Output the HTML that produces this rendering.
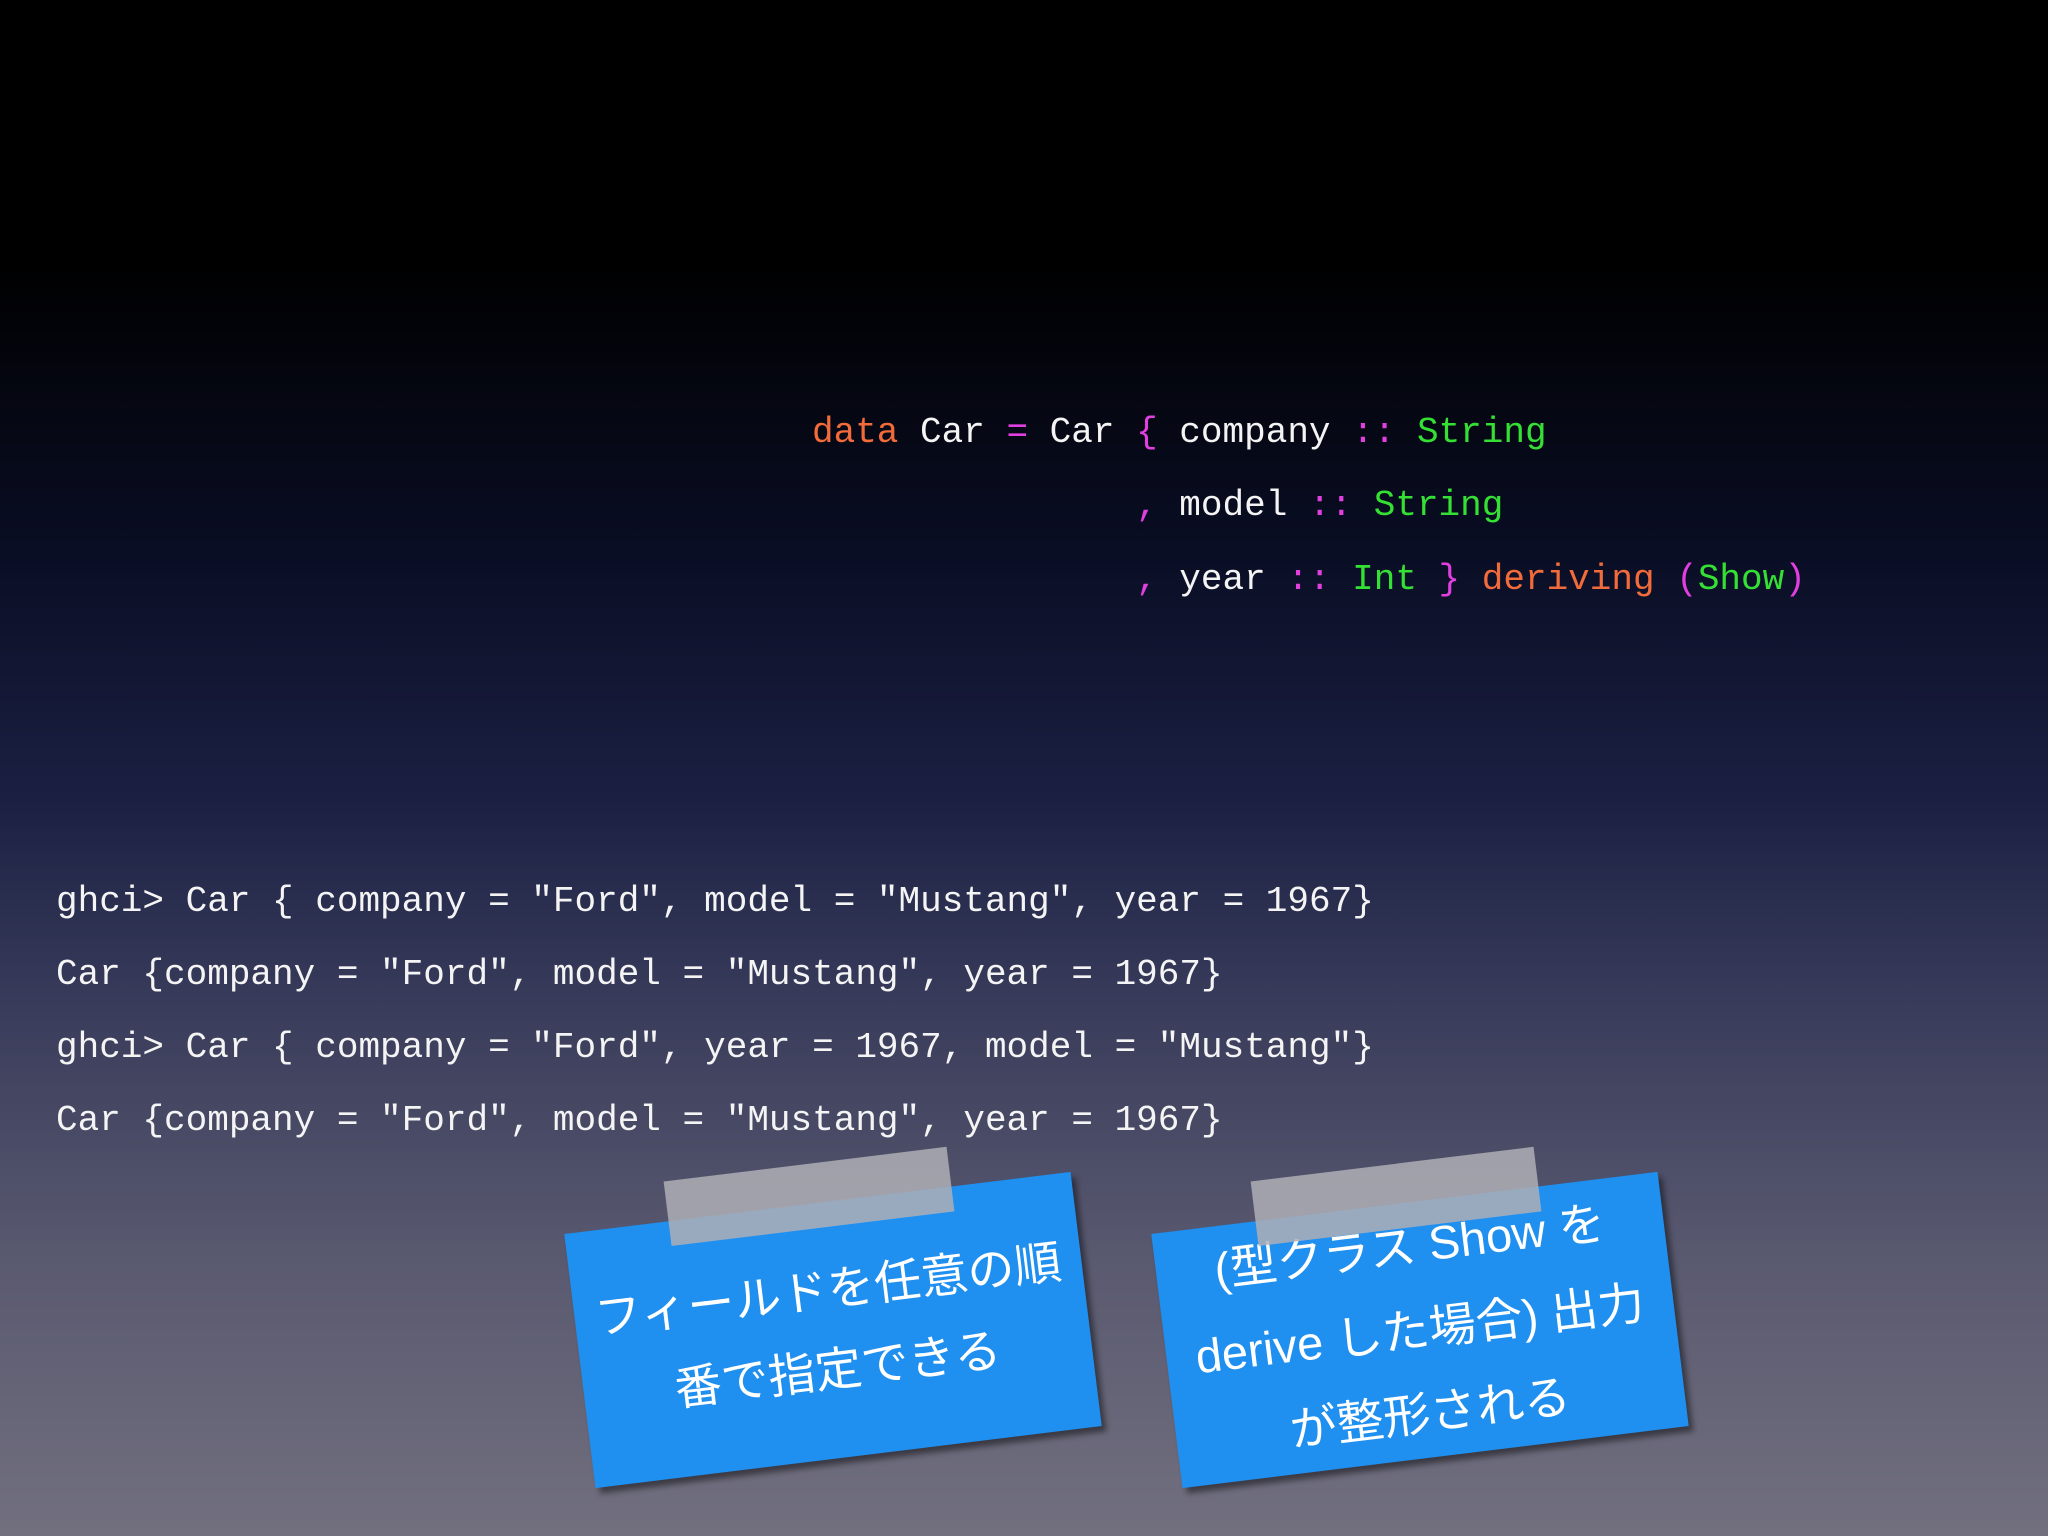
<!DOCTYPE html>
<html><head><meta charset="utf-8"><style>
html,body{margin:0;padding:0}
body{width:2048px;height:1536px;overflow:hidden;position:relative;
background:linear-gradient(180deg,#000 0px,#000 260px,#0a0e25 560px,#1b2043 800px,#383b5a 1000px,#58586f 1250px,#72707f 1536px);}
.code{position:absolute;font-family:"Liberation Mono",monospace;font-size:36px;white-space:pre;color:#f4f4f4;line-height:44px}
.o{color:#f26b3a}.m{color:#e23fe0}.g{color:#35e035}
.note{position:absolute;width:510px;height:256px;background:#1f8ff0;box-shadow:4px 6px 6px rgba(0,0,0,.45);color:#fff;
font-family:"Liberation Sans","Noto Sans CJK JP",sans-serif;font-size:47px;text-align:center;display:flex;align-items:center;justify-content:center;line-height:80px}
.tape{position:absolute;left:105px;top:-40px;width:285px;height:65px;background:rgba(175,175,182,.85)}
</style></head><body>
<div class="code" style="left:812px;top:411px"><span class="o">data</span> Car <span class="m">=</span> Car <span class="m">{</span> company <span class="m">::</span> <span class="g">String</span></div>
<div class="code" style="left:812px;top:484px">               <span class="m">,</span> model <span class="m">::</span> <span class="g">String</span></div>
<div class="code" style="left:812px;top:558px">               <span class="m">,</span> year <span class="m">::</span> <span class="g">Int</span> <span class="m">}</span> <span class="o">deriving</span> <span class="m">(</span><span class="g">Show</span><span class="m">)</span></div>
<div class="code" style="left:56px;top:880px">ghci&gt; Car { company = "Ford", model = "Mustang", year = 1967}</div>
<div class="code" style="left:56px;top:953px">Car {company = "Ford", model = "Mustang", year = 1967}</div>
<div class="code" style="left:56px;top:1026px">ghci&gt; Car { company = "Ford", year = 1967, model = "Mustang"}</div>
<div class="code" style="left:56px;top:1099px">Car {company = "Ford", model = "Mustang", year = 1967}</div>
<div class="note" style="left:578px;top:1202px;transform:rotate(-7deg)"><div class="tape"></div><div>フィールドを任意の順<br>番で指定できる</div></div>
<div class="note" style="left:1165px;top:1202px;transform:rotate(-7deg);line-height:84px"><div class="tape"></div><div>(型クラス Show を<br>derive した場合) 出力<br>が整形される</div></div>
</body></html>
